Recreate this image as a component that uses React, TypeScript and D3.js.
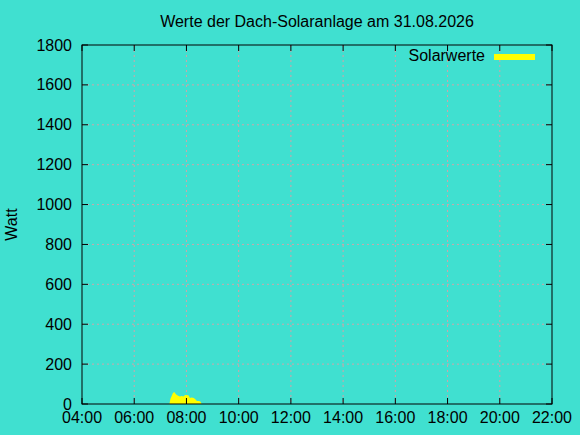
import React, { useEffect, useRef } from 'react';
import * as d3 from 'd3';

// Messwerte (Uhrzeit, Watt)
const times = ['07:21', '07:23', '07:26', '07:29', '07:32', '07:35', '07:38', '07:42', '07:45', '07:49', '07:53', '07:57', '08:01', '08:05', '08:08', '08:12', '08:17', '08:21', '08:24', '08:28', '08:32', '08:35'];
const watts = [0, 25, 40, 55, 60, 52, 45, 40, 37, 40, 38, 45, 45, 42, 30, 32, 30, 22, 15, 15, 12, 0];

const yTicks = [0, 200, 400, 600, 800, 1000, 1200, 1400, 1600, 1800];
const xTickLabels = ['04:00', '06:00', '08:00', '10:00', '12:00', '14:00', '16:00', '18:00', '20:00', '22:00'];

const title = 'Werte der Dach-Solaranlage am 31.08.2026';
const yLabel = 'Watt';
const seriesName = 'Solarwerte';

const W = 580;
const H = 435;

const toHours = (s: string) => {
  const [h, m] = s.split(':').map(Number);
  return h + m / 60;
};

const App: React.FC = () => {
  const svgRef = useRef<SVGSVGElement>(null);

  useEffect(() => {
    if (!svgRef.current) return;
    const svg = d3.select(svgRef.current);
    svg.selectAll('*').remove();

    const margin = { top: 45, right: 28, bottom: 31, left: 82 };
    const innerW = W - margin.left - margin.right;
    const innerH = H - margin.top - margin.bottom;
    const font = 'Liberation Sans, Arial, sans-serif';
    const fs = 16;

    svg.append('rect').attr('width', W).attr('height', H).attr('fill', '#40e0d0');

    const x = d3.scaleLinear().domain([4, 22]).range([0, innerW]);
    const y = d3.scaleLinear().domain([0, 1800]).range([innerH, 0]);

    const g = svg.append('g').attr('transform', `translate(${margin.left},${margin.top})`);

    // grid
    const gridColor = '#d0a4a8';
    xTickLabels.slice(1, -1).forEach(t => {
      g.append('line')
        .attr('x1', x(toHours(t))).attr('x2', x(toHours(t)))
        .attr('y1', 0).attr('y2', innerH)
        .attr('stroke', gridColor).attr('stroke-dasharray', '2,3');
    });
    yTicks.slice(1, -1).forEach(v => {
      g.append('line')
        .attr('x1', 0).attr('x2', innerW)
        .attr('y1', y(v)).attr('y2', y(v))
        .attr('stroke', gridColor).attr('stroke-dasharray', '2,3');
    });

    // data area
    const data = times.map((t, i) => ({ h: toHours(t), v: watts[i] }));
    const area = d3.area<{ h: number; v: number }>()
      .x(d => x(d.h))
      .y0(innerH)
      .y1(d => y(d.v));
    g.append('path').datum(data).attr('d', area).attr('fill', '#ffff00');

    // frame
    g.append('rect')
      .attr('width', innerW).attr('height', innerH)
      .attr('fill', 'none').attr('stroke', '#000').attr('stroke-width', 1);

    // ticks (inward, mirrored)
    const tl = 6;
    xTickLabels.forEach(t => {
      const px = x(toHours(t));
      g.append('line').attr('x1', px).attr('x2', px).attr('y1', innerH).attr('y2', innerH - tl).attr('stroke', '#000');
      g.append('line').attr('x1', px).attr('x2', px).attr('y1', 0).attr('y2', tl).attr('stroke', '#000');
      g.append('text')
        .attr('x', px).attr('y', innerH + 19)
        .attr('text-anchor', 'middle')
        .attr('font-family', font).attr('font-size', fs).attr('fill', '#000')
        .text(t);
    });
    yTicks.forEach(v => {
      const py = y(v);
      g.append('line').attr('x1', 0).attr('x2', tl).attr('y1', py).attr('y2', py).attr('stroke', '#000');
      g.append('line').attr('x1', innerW).attr('x2', innerW - tl).attr('y1', py).attr('y2', py).attr('stroke', '#000');
      g.append('text')
        .attr('x', -10).attr('y', py + 5.5)
        .attr('text-anchor', 'end')
        .attr('font-family', font).attr('font-size', fs).attr('fill', '#000')
        .text(v);
    });

    // title
    svg.append('text')
      .attr('x', margin.left + innerW / 2).attr('y', 27)
      .attr('text-anchor', 'middle')
      .attr('font-family', font).attr('font-size', fs).attr('fill', '#000')
      .text(title);

    // y label
    svg.append('text')
      .attr('transform', `translate(17,${margin.top + innerH / 2}) rotate(-90)`)
      .attr('text-anchor', 'middle')
      .attr('font-family', font).attr('font-size', fs).attr('fill', '#000')
      .text(yLabel);

    // legend
    svg.append('text')
      .attr('x', 485).attr('y', 61)
      .attr('text-anchor', 'end')
      .attr('font-family', font).attr('font-size', fs).attr('fill', '#000')
      .text(seriesName);
    svg.append('rect')
      .attr('x', 494).attr('y', 54).attr('width', 41).attr('height', 6)
      .attr('fill', '#ffff00');
  }, []);

  return (
    <div style={{ position: 'fixed', left: 0, top: 0, width: W, height: H }}>
      <svg ref={svgRef} width={W} height={H} style={{ display: 'block' }} />
    </div>
  );
};

export default App;
